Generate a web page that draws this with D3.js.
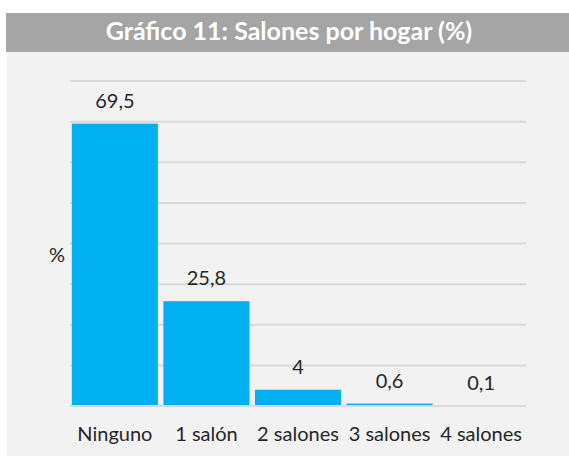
<!DOCTYPE html>
<html>
<head>
<meta charset="utf-8">
<script src="https://cdn.jsdelivr.net/npm/d3@7"></script>
<style>
  body { margin: 0; background: #ffffff; }
  text { font-family: Lato, "Liberation Sans", sans-serif; }
</style>
</head>
<body>
<script>
var categories = ['Ninguno', '1 salón', '2 salones', '3 salones', '4 salones']
var values = [69.5, 25.8, 4, 0.6, 0.1]
var valueLabels = ['69,5', '25,8', '4', '0,6', '0,1']
var yTicks = [0, 10, 20, 30, 40, 50, 60, 70, 80]

var svg = d3.select("body").append("svg")
    .attr("width", 569)
    .attr("height", 457)

// panel background and title bar
svg.append("rect")
    .attr("x", 7).attr("y", 52)
    .attr("width", 562).attr("height", 404)
    .attr("fill", "#f2f2f2")
svg.append("rect")
    .attr("x", 6).attr("y", 13)
    .attr("width", 563).attr("height", 39)
    .attr("fill", "#a5a5a5")
svg.append("text")
    .attr("x", 289).attr("y", 40)
    .attr("text-anchor", "middle")
    .attr("fill", "#ffffff")
    .style("font-size", "25px")
    .style("font-weight", "bold")
    .text("Gráfico 11: Salones por hogar (%)")

var x = d3.scaleBand()
    .domain(categories)
    .range([70, 526])
    .paddingInner(0.06)
    .paddingOuter(0.02)

var y = d3.scaleLinear()
    .domain([0, 80])
    .range([406, 81])

// gridlines
svg.append("g")
    .selectAll("line")
    .data(yTicks)
    .enter()
  .append("line")
    .attr("x1", 70).attr("x2", 526)
    .attr("y1", function (d) { return y(d) })
    .attr("y2", function (d) { return y(d) })
    .attr("stroke", "#d9d9d9")
    .attr("stroke-width", 2)

var data = categories.map(function (c, i) {
  return { cat: c, value: values[i], label: valueLabels[i] }
})

svg.append("g")
    .selectAll("rect")
    .data(data)
    .enter()
  .append("rect")
    .attr("x", function (d) { return x(d.cat) })
    .attr("width", x.bandwidth())
    .attr("y", function (d) { return y(d.value) })
    .attr("height", function (d) { return y(0) - y(d.value) - 1 })
    .attr("fill", "#00b0f0")

svg.append("g")
    .selectAll("text")
    .data(data)
    .enter()
  .append("text")
    .attr("x", function (d) { return x(d.cat) + x.bandwidth() / 2 })
    .attr("y", function (d) { return y(d.value) - 16 })
    .attr("text-anchor", "middle")
    .attr("fill", "#262626")
    .style("font-size", "20px")
    .text(function (d) { return d.label })

// category axis labels
svg.append("g")
    .selectAll("text")
    .data(categories)
    .enter()
  .append("text")
    .attr("x", function (d) { return x(d) + x.bandwidth() / 2 })
    .attr("y", 441)
    .attr("text-anchor", "middle")
    .attr("fill", "#262626")
    .style("font-size", "20px")
    .text(function (d) { return d })

svg.append("text")
    .attr("x", 57).attr("y", 262)
    .attr("text-anchor", "middle")
    .attr("fill", "#262626")
    .style("font-size", "20px")
    .text("%")
</script>
</body>
</html>
